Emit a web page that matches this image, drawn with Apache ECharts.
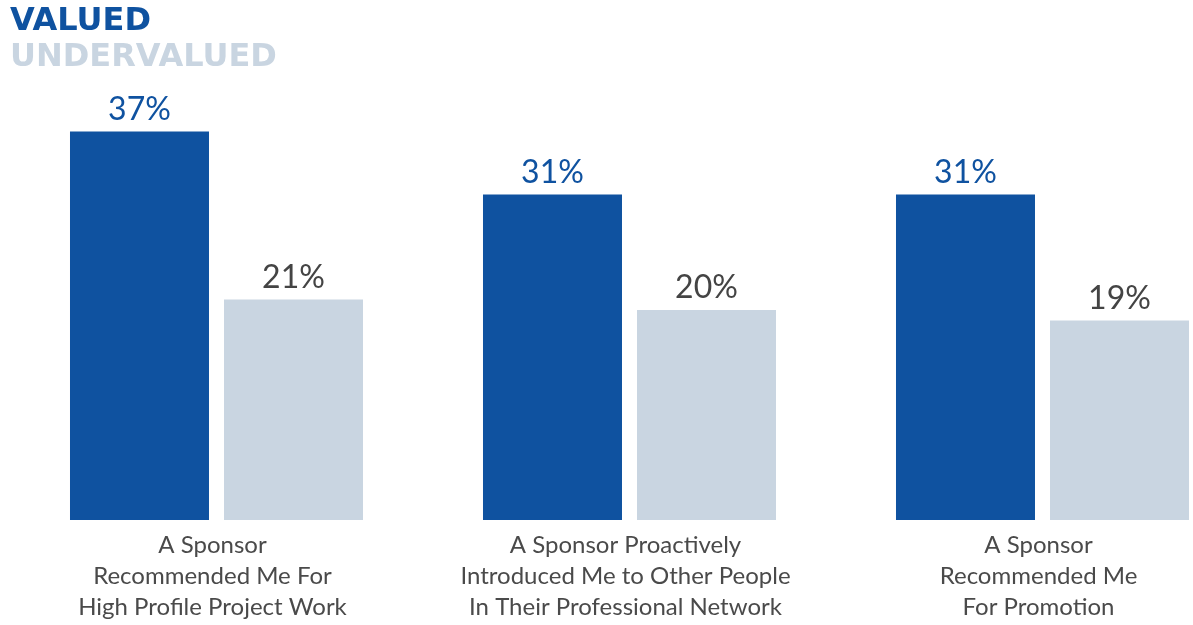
<!DOCTYPE html>
<html>
<head>
<meta charset="utf-8">
<script src="https://cdn.jsdelivr.net/npm/echarts@6/dist/echarts.min.js"></script>
<style>html,body{margin:0;padding:0;background:#fff}#c{width:1193px;height:625px}</style>
</head>
<body>
<div id="c"></div>
<script>
const categories = [
  "A Sponsor\nRecommended Me For\nHigh Profile Project Work",
  "A Sponsor Proactively\nIntroduced Me to Other People\nIn Their Professional Network",
  "A Sponsor\nRecommended Me\nFor Promotion"
];
const seriesNames = ["VALUED", "UNDERVALUED"];
const valued = [37, 31, 31];
const undervalued = [21, 20, 19];

const DARK = "#0F52A0", LIGHT = "#C9D5E1";
const chart = echarts.init(document.getElementById('c'), null, {renderer: 'canvas'});
chart.setOption({
  animation: false,
  backgroundColor: '#fff',
  legend: {
    show: true, orient: 'vertical', left: 0, top: 1, icon: 'none',
    itemWidth: 0, itemHeight: 26, itemGap: 4, selectedMode: false,
    data: [
      {name: seriesNames[0], textStyle: {color: DARK}},
      {name: seriesNames[1], textStyle: {color: LIGHT}}
    ],
    textStyle: {fontFamily: 'DejaVu Sans', fontWeight: 'bold', fontSize: 32, padding: 0}
  },
  grid: {left: 10, top: 100, width: 1239, height: 420, containLabel: false, outerBoundsMode: 'none'},
  xAxis: {
    type: 'category', data: categories,
    axisLine: {show: false}, axisTick: {show: false},
    axisLabel: {interval: 0, margin: 10, color: '#4a4a4a', fontFamily: 'Lato', fontSize: 24, lineHeight: 31, padding: [0, 8, 0, 0]}
  },
  yAxis: {type: 'value', min: 0, max: 40, show: false, splitLine: {show: false}},
  series: [
    {name: seriesNames[0], type: 'bar', data: valued, barWidth: 139, barGap: '10.8%',
     itemStyle: {color: DARK},
     label: {show: true, position: 'top', distance: 6, formatter: '{c}%', color: DARK, fontFamily: 'Lato', fontSize: 32}},
    {name: seriesNames[1], type: 'bar', data: undervalued, barWidth: 139,
     itemStyle: {color: LIGHT},
     label: {show: true, position: 'top', distance: 6, formatter: '{c}%', color: '#444', fontFamily: 'Lato', fontSize: 32}}
  ]
});
</script>
</body>
</html>
